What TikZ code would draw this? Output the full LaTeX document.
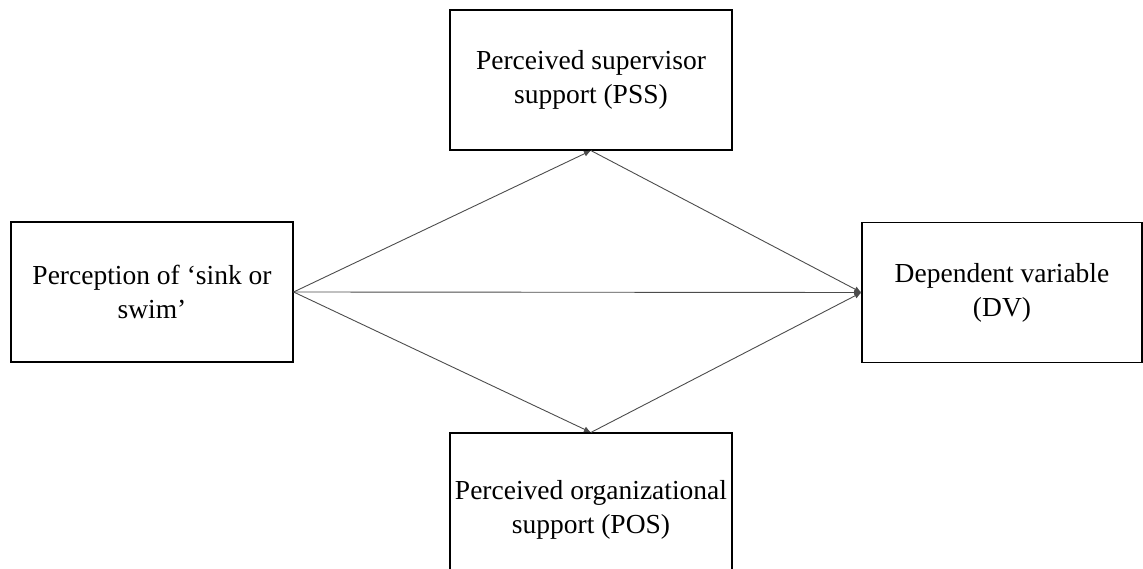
\documentclass[tikz,border=0pt]{standalone}
\usepackage{fontspec}
\setmainfont{Liberation Serif}
\usetikzlibrary{arrows.meta}
\tikzset{
  varbox/.style={draw=black, line width=1.2pt, rectangle, align=center,
    minimum width=282pt, minimum height=140pt, inner sep=0pt,
    font=\fontsize{27.5}{34}\selectfont},
  path/.style={draw=black!70, line width=0.9pt,
    -{Latex[length=7pt,width=6pt]}}
}
\begin{document}
\begin{tikzpicture}[x=1pt,y=-1pt]
  \useasboundingbox (0,0) rectangle (1143,569);
  \node[varbox] (sos) at (152,292) {Perception of ‘sink or\\swim’};
  \node[varbox] (pss) at (591,80) {Perceived supervisor\\support (PSS)};
  \node[varbox, minimum width=280pt] (dv) at (1002,292.5) {Dependent variable\\(DV)};
  \node[varbox, minimum height=154pt] (pos) at (591,510) {Perceived organizational\\support (POS)};
  \draw[path] (sos.east) -- (pss.south);
  \draw[path] (sos.east) -- (pos.north);
  \draw[path] (sos.east) -- (dv.west);
  \draw[path] (pss.south) -- (dv.west);
  \draw[path] (pos.north) -- (dv.west);
\end{tikzpicture}
\end{document}
